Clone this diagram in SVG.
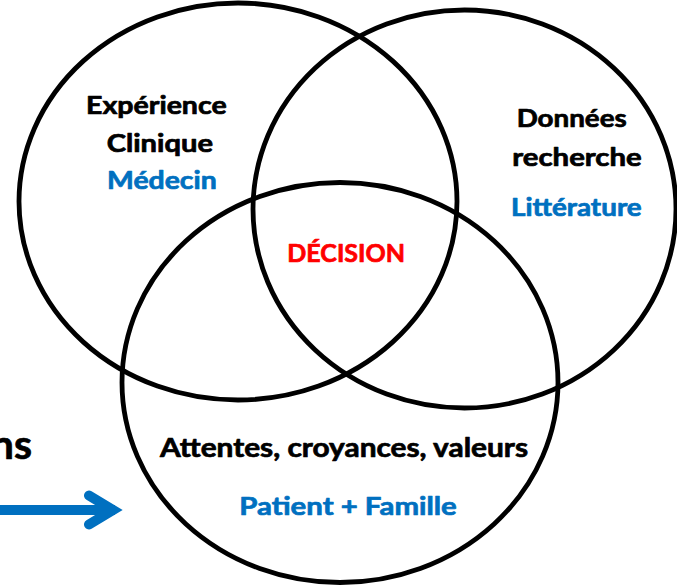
<svg xmlns="http://www.w3.org/2000/svg" width="677" height="587" viewBox="0 0 677 587">
  <style>
    .ring { fill: none; stroke: #000000; stroke-width: 4.8; }
    .t { font-family: Lato, "Open Sans", "Liberation Sans", sans-serif; font-weight: 700; stroke-width: 0.7; stroke-linejoin: round; }
    .k { fill: #000000; stroke: #000000; }
    .b { fill: #0070C0; stroke: #0070C0; }
    .r { fill: #FF0000; stroke: #FF0000; }
    .arrow { fill: none; stroke: #0070C0; stroke-width: 10; }
  </style>
  <rect x="0" y="0" width="677" height="587" fill="#FFFFFF"/>

  <g id="circle-clinique">
    <ellipse class="ring" cx="238" cy="201.5" rx="219" ry="198.5"/>
  </g>
  <g id="circle-recherche">
    <ellipse class="ring" cx="464.5" cy="209" rx="211.5" ry="199"/>
  </g>
  <g id="circle-patient">
    <ellipse class="ring" cx="340" cy="382.5" rx="218" ry="200"/>
  </g>

  <g id="node-clinique">
    <text class="t k" x="86" y="114.3" font-size="24.6" textLength="140.7" lengthAdjust="spacingAndGlyphs">Expérience</text>
    <text class="t k" x="106.7" y="152.3" font-size="24.6" textLength="106.3" lengthAdjust="spacingAndGlyphs">Clinique</text>
    <text class="t b" x="107" y="189.3" font-size="24.6" textLength="109.7" lengthAdjust="spacingAndGlyphs">Médecin</text>
  </g>

  <g id="node-recherche">
    <text class="t k" x="516.7" y="126.7" font-size="24.3" textLength="110" lengthAdjust="spacingAndGlyphs">Données</text>
    <text class="t k" x="512.3" y="165.7" font-size="24.3" textLength="129.4" lengthAdjust="spacingAndGlyphs">recherche</text>
    <text class="t b" x="511" y="215.7" font-size="24.3" textLength="130.7" lengthAdjust="spacingAndGlyphs">Littérature</text>
  </g>

  <g id="node-decision">
    <text class="t r" x="287.3" y="261.7" font-size="24.6" textLength="117.7" lengthAdjust="spacingAndGlyphs">DÉCISION</text>
  </g>

  <g id="node-patient">
    <text class="t k" x="160" y="457.3" font-size="26.3" textLength="368" lengthAdjust="spacingAndGlyphs">Attentes, croyances, valeurs</text>
    <text class="t b" x="239.3" y="515" font-size="25.5" textLength="217.4" lengthAdjust="spacingAndGlyphs">Patient + Famille</text>
  </g>

  <g id="node-left-label">
    <text class="t k" x="32" y="459.3" font-size="41" text-anchor="end">ns</text>
  </g>

  <g id="connectors">
    <line class="arrow" x1="-5" y1="510" x2="115" y2="510"/>
    <polyline class="arrow" points="89,495.5 113,510 89,524.5" stroke-linecap="round" stroke-linejoin="miter" stroke-miterlimit="10"/>
  </g>
</svg>
